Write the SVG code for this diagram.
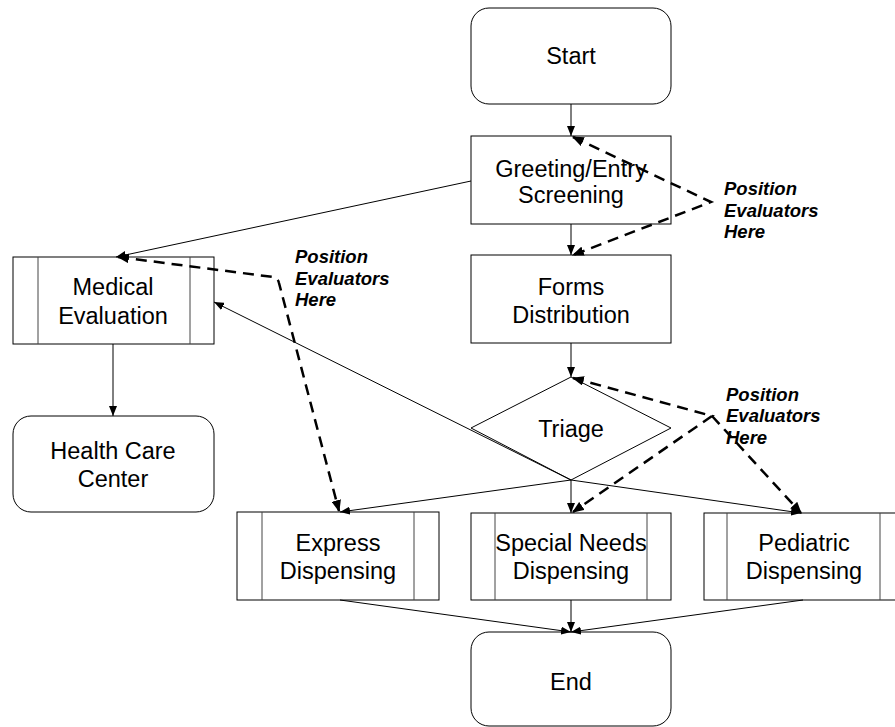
<svg xmlns="http://www.w3.org/2000/svg" width="895" height="727" viewBox="0 0 895 727">
<defs>
<marker id="ah" viewBox="0 0 10 8" refX="10" refY="4" markerWidth="10" markerHeight="8" markerUnits="userSpaceOnUse" orient="auto-start-reverse"><path d="M0,0 L10,4 L0,8 z" fill="#000"/></marker>
<marker id="ahd" viewBox="0 0 10 8" refX="9" refY="4" markerWidth="12" markerHeight="10" markerUnits="userSpaceOnUse" orient="auto-start-reverse"><path d="M0,0 L10,4 L0,8 z" fill="#000"/></marker>
</defs>
<style>
.box{fill:#fff;stroke:#000;stroke-width:1}
.inner{stroke:#444;stroke-width:1}
.t{font-family:"Liberation Sans",Arial,sans-serif;font-size:23.5px;fill:#000;text-anchor:middle}
.lab{font-family:"Liberation Sans",Arial,sans-serif;font-size:18.5px;font-weight:bold;font-style:italic;fill:#000}
.c{fill:none;stroke:#000;stroke-width:1}
.d{fill:none;stroke:#000;stroke-width:2.5;stroke-dasharray:11,7}
</style>
<rect width="895" height="727" fill="#fff"/>
<g id="start"><rect class="box" x="471" y="8" width="200" height="96" rx="18"/><text class="t" x="571" y="64">Start</text></g>
<g id="greeting"><rect class="box" x="471" y="136" width="200" height="88"/><text class="t" x="571" y="177">Greeting/Entry</text><text class="t" x="571" y="203">Screening</text></g>
<g id="forms"><rect class="box" x="471" y="255" width="200" height="88"/><text class="t" x="571" y="295">Forms</text><text class="t" x="571" y="323">Distribution</text></g>
<g id="medical"><rect class="box" x="13" y="257" width="201" height="87"/><line class="inner" x1="38" y1="257" x2="38" y2="344"/><line class="inner" x1="190" y1="257" x2="190" y2="344"/><text class="t" x="113" y="295">Medical</text><text class="t" x="113" y="324">Evaluation</text></g>
<g id="triage"><polygon class="box" points="571,377 671,428 571,480 471,428"/><text class="t" x="571" y="437">Triage</text></g>
<g id="health"><rect class="box" x="13" y="416" width="201" height="96" rx="18"/><text class="t" x="113" y="459">Health Care</text><text class="t" x="113" y="487">Center</text></g>
<g id="express"><rect class="box" x="237" y="512" width="202" height="88"/><line class="inner" x1="262" y1="512" x2="262" y2="600"/><line class="inner" x1="414" y1="512" x2="414" y2="600"/><text class="t" x="338" y="551">Express</text><text class="t" x="338" y="579">Dispensing</text></g>
<g id="special"><rect class="box" x="471" y="513" width="200" height="87"/><line class="inner" x1="495" y1="513" x2="495" y2="600"/><line class="inner" x1="647" y1="513" x2="647" y2="600"/><text class="t" x="571" y="551">Special Needs</text><text class="t" x="571" y="579">Dispensing</text></g>
<g id="pediatric"><rect class="box" x="704" y="513" width="200" height="87"/><line class="inner" x1="727" y1="513" x2="727" y2="600"/><line class="inner" x1="880" y1="513" x2="880" y2="600"/><text class="t" x="804" y="551">Pediatric</text><text class="t" x="804" y="579">Dispensing</text></g>
<g id="end"><rect class="box" x="471" y="632" width="200" height="94" rx="18"/><text class="t" x="571" y="690">End</text></g>
<g id="connectors">
<line class="c" x1="571" y1="104" x2="571" y2="136" marker-end="url(#ah)"/>
<line class="c" x1="571" y1="224" x2="571" y2="255" marker-end="url(#ah)"/>
<line class="c" x1="471" y1="181" x2="116" y2="257" marker-end="url(#ah)"/>
<line class="c" x1="113" y1="344" x2="113" y2="416" marker-end="url(#ah)"/>
<line class="c" x1="571" y1="343" x2="571" y2="377" marker-end="url(#ah)"/>
<line class="c" x1="571" y1="480" x2="214" y2="302" marker-end="url(#ah)"/>
<line class="c" x1="571" y1="480" x2="340" y2="512" marker-end="url(#ah)"/>
<line class="c" x1="571" y1="480" x2="571" y2="513" marker-end="url(#ah)"/>
<line class="c" x1="571" y1="480" x2="801" y2="513" marker-end="url(#ah)"/>
<line class="c" x1="340" y1="600" x2="571" y2="632" marker-end="url(#ah)"/>
<line class="c" x1="571" y1="600" x2="571" y2="632" marker-end="url(#ah)"/>
<line class="c" x1="803" y1="600" x2="571" y2="632" marker-end="url(#ah)"/>
<polyline class="d" points="573,137 711,202 573,255" marker-start="url(#ahd)" marker-end="url(#ahd)"/>
<path class="d" d="M118,257 L273,277 Q278,278 279,283 L339,511" marker-start="url(#ahd)" marker-end="url(#ahd)"/>
<polyline class="d" points="573,378 712,416 573,512" marker-start="url(#ahd)" marker-end="url(#ahd)"/>
<polyline class="d" points="712,416 801,513" marker-end="url(#ahd)"/>
</g>
<g id="labels">
<text class="lab"><tspan x="724" y="195">Position</tspan><tspan x="724" y="216.5">Evaluators</tspan><tspan x="724" y="238">Here</tspan></text>
<text class="lab"><tspan x="295" y="263">Position</tspan><tspan x="295" y="284.5">Evaluators</tspan><tspan x="295" y="306">Here</tspan></text>
<text class="lab"><tspan x="726" y="400.5">Position</tspan><tspan x="726" y="422">Evaluators</tspan><tspan x="726" y="443.5">Here</tspan></text>
</g>
</svg>
